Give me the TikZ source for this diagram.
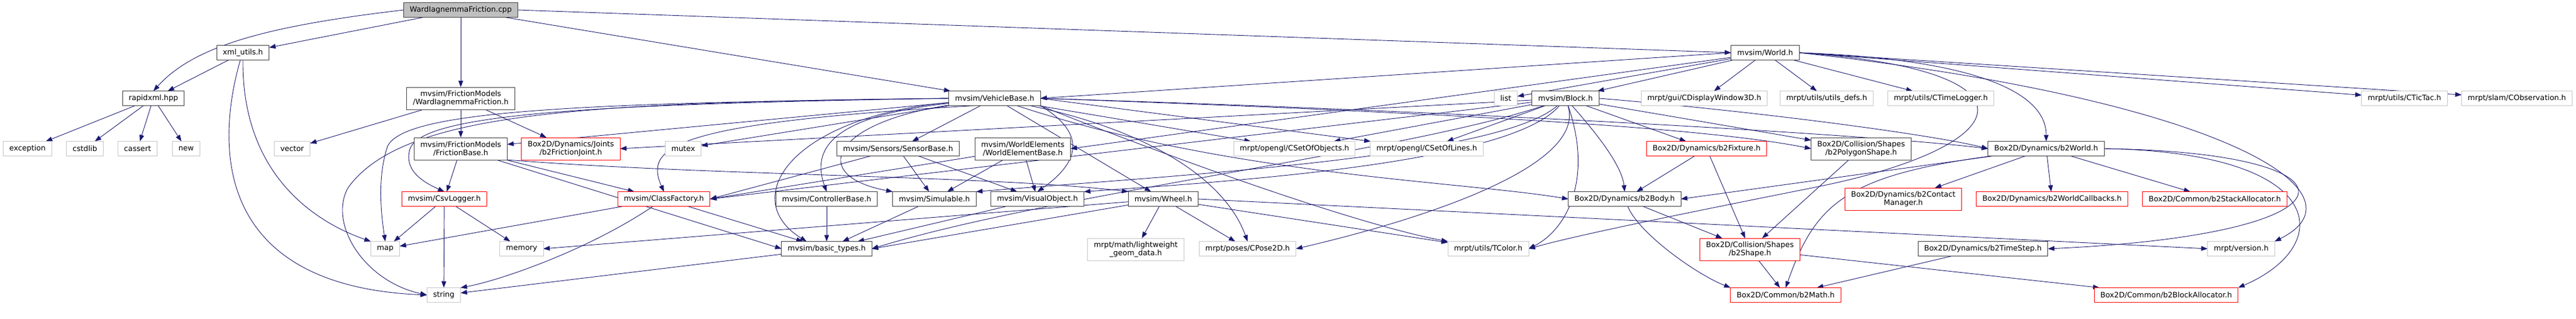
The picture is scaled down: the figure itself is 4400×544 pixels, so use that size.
\documentclass[tikz,border=0pt]{standalone}
\usepackage{fontspec}
\setmainfont{DejaVu Sans}
\usetikzlibrary{arrows.meta}
\definecolor{edgeblue}{HTML}{191970}
\pgfdeclarelayer{edges}
\pgfsetlayers{edges,main}

\begin{document}
\begin{tikzpicture}[x=1pt,y=-1pt,
  every node/.style={font=\fontsize{12.7}{14}\selectfont, minimum height=25pt, inner xsep=10.5pt, inner ysep=1pt, outer sep=0pt, align=center, line width=1pt, fill=white},
  hdr/.style={draw=black!75},
  hdrred/.style={draw=red},
  sys/.style={draw=black!22},
  root/.style={draw=black!75, fill=black!25},
  two/.style={minimum height=38pt},
  dep/.style={draw=edgeblue, line width=0.9pt, -{Triangle[length=11pt,width=8pt]}}]
\useasboundingbox (0,0) rectangle (4400,544);

% top rows
\node[root] (cpp) at (787,17) {WardIagnemmaFriction.cpp};
\node[hdr] (xml) at (415,90) {xml\_utils.h};
\node[hdr] (world) at (3015,90) {mvsim/World.h};

\node[hdr] (rapid) at (262,168) {rapidxml.hpp};
\node[hdr,two] (wif) at (787,168) {mvsim/FrictionModels\\/WardIagnemmaFriction.h};
\node[hdr] (vb) at (1699,168) {mvsim/VehicleBase.h};
\node[sys] (list) at (2572,168) {list};
\node[hdr] (block) at (2674,168) {mvsim/Block.h};
\node[sys] (disp) at (2911,168) {mrpt/gui/CDisplayWindow3D.h};
\node[sys] (udefs) at (3120,168) {mrpt/utils/utils\_defs.h};
\node[sys] (tlog) at (3315,168) {mrpt/utils/CTimeLogger.h};
\node[sys] (tictac) at (4107,168) {mrpt/utils/CTicTac.h};
\node[sys] (cobs) at (4299,168) {mrpt/slam/CObservation.h};

\node[sys] (exc) at (47,254) {exception};
\node[sys] (cstd) at (145,254) {cstdlib};
\node[sys] (cass) at (235,254) {cassert};
\node[sys] (new) at (318,254) {new};
\node[sys] (vector) at (499,254) {vector};
\node[hdr,two] (fb) at (787,254) {mvsim/FrictionModels\\/FrictionBase.h};
\node[hdrred,two] (joint) at (975,254) {Box2D/Dynamics/Joints\\/b2FrictionJoint.h};
\node[sys] (mutex) at (1167,254) {mutex};
\node[hdr] (sensor) at (1534,254) {mvsim/Sensors/SensorBase.h};
\node[hdr,two] (web) at (1747,254) {mvsim/WorldElements\\/WorldElementBase.h};
\node[sys] (cso) at (2211,254) {mrpt/opengl/CSetOfObjects.h};
\node[sys] (csl) at (2437,254) {mrpt/opengl/CSetOfLines.h};
\node[hdrred] (fix) at (2915,254) {Box2D/Dynamics/b2Fixture.h};
\node[hdr,two] (poly) at (3179,254) {Box2D/Collision/Shapes\\/b2PolygonShape.h};
\node[hdr] (b2w) at (3495,254) {Box2D/Dynamics/b2World.h};

\node[hdrred] (csv) at (759,340) {mvsim/CsvLogger.h};
\node[hdrred] (cf) at (1134,340) {mvsim/ClassFactory.h};
\node[hdr] (ctrl) at (1412,340) {mvsim/ControllerBase.h};
\node[hdr] (sim) at (1596,340) {mvsim/Simulable.h};
\node[hdr] (vis) at (1772,340) {mvsim/VisualObject.h};
\node[hdr] (wheel) at (1987,340) {mvsim/Wheel.h};
\node[hdr] (body) at (2775,340) {Box2D/Dynamics/b2Body.h};
\node[hdrred,two] (cm) at (3251,340) {Box2D/Dynamics/b2Contact\\Manager.h};
\node[hdrred] (wcb) at (3505,340) {Box2D/Dynamics/b2WorldCallbacks.h};
\node[hdrred] (stack) at (3783,340) {Box2D/Common/b2StackAllocator.h};

\node[sys] (map) at (658,425) {map};
\node[sys] (memory) at (891,425) {memory};
\node[hdr] (bt) at (1412,425) {mvsim/basic\_types.h};
\node[sys,two] (lw) at (1940,426) {mrpt/math/lightweight\\\_geom\_data.h};
\node[sys] (pose) at (2131,425) {mrpt/poses/CPose2D.h};
\node[sys] (tcolor) at (2542,425) {mrpt/utils/TColor.h};
\node[hdrred,two] (shape) at (2989,426) {Box2D/Collision/Shapes\\/b2Shape.h};
\node[hdr] (tstep) at (3387,425) {Box2D/Dynamics/b2TimeStep.h};
\node[sys] (ver) at (3828,425) {mrpt/version.h};

\node[sys] (string) at (758,504) {string};
\node[hdrred] (math) at (3050,504) {Box2D/Common/b2Math.h};
\node[hdrred] (balloc) at (3700,504) {Box2D/Common/b2BlockAllocator.h};

\begin{pgfonlayer}{edges}
% includes of the cpp
\draw[dep] (cpp) -- (xml);
\draw[dep] (cpp.west) .. controls (450,45) and (330,80) .. (rapid.north);
\draw[dep] (cpp) -- (wif);
\draw[dep] (cpp) -- (vb);
\draw[dep] (cpp.east) -- (world.west);

\draw[dep] (xml) -- (rapid);
\draw[dep] (xml.south) .. controls (413,300) and (540,380) .. (map.north west);
\draw[dep] (xml.250) .. controls (360,280) and (390,490) .. (string.west);

\draw[dep] (rapid) -- (exc);
\draw[dep] (rapid) -- (cstd);
\draw[dep] (rapid) -- (cass);
\draw[dep] (rapid) -- (new);

\draw[dep] (wif) -- (vector);
\draw[dep] (wif) -- (fb);
\draw[dep] (wif) -- (joint);

\draw[dep] (fb) -- (csv);
\draw[dep] (fb) -- (cf);
\draw[dep] (fb) -- (bt.west);
\draw[dep] (fb.south east) .. controls (1200,300) and (1700,300) .. (wheel.north west);

\draw[dep] (csv) -- (map);
\draw[dep] (csv) -- (memory);
\draw[dep] (csv) -- (string);

\draw[dep] (cf) -- (map);
\draw[dep] (cf) .. controls (1000,430) and (850,480) .. (string.north east);
\draw[dep] (cf) -- (bt);

% VehicleBase
\draw[dep] (vb.west) .. controls (1000,178) and (720,195) .. (700,255) .. controls (690,290) and (720,310) .. (csv.north);
\draw[dep] (vb.west) .. controls (1000,176) and (690,188) .. (662,250) .. controls (645,300) and (650,360) .. (map.north);
\draw[dep] (vb.west) .. controls (1000,175) and (690,190) .. (595,320) .. controls (560,380) and (620,480) .. (string.west);
\draw[dep] (vb) -- (fb);
\draw[dep] (vb) -- (mutex);
\draw[dep] (vb.200) .. controls (1150,210) and (1100,250) .. (cf.north);
\draw[dep] (vb) -- (sensor);
\draw[dep] (vb) .. controls (1450,195) and (1380,240) .. (ctrl.north);
\draw[dep] (vb) .. controls (1420,210) and (1380,300) .. (sim.north west);
\draw[dep] (vb) .. controls (1350,200) and (1260,340) .. (bt.160);
\draw[dep] (vb.south east) .. controls (1860,230) and (1840,280) .. (vis.north);
\draw[dep] (vb) -- (wheel);
\draw[dep] (vb) -- (cso);
\draw[dep] (vb.east) -- (csl);
\draw[dep] (vb) .. controls (1950,220) and (2090,300) .. (pose.north);
\draw[dep] (vb.south east) .. controls (1950,250) and (2300,380) .. (tcolor.north west);
\draw[dep] (vb) .. controls (2100,300) and (2500,310) .. (body.west);
\draw[dep] (vb.east) .. controls (2400,190) and (2900,215) .. (poly.west);
\draw[dep] (vb.east) .. controls (2500,190) and (3200,230) .. (b2w.west);

% Block
\draw[dep] (block) -- (csl);
\draw[dep] (block) -- (cso);
\draw[dep] (block) .. controls (2720,220) and (2770,280) .. (body.north);
\draw[dep] (block) -- (fix);
\draw[dep] (block) -- (poly);
\draw[dep] (block.east) .. controls (3000,190) and (3300,230) .. (b2w.west);
\draw[dep] (block) .. controls (2560,270) and (2000,300) .. (sim.north east);
\draw[dep] (block) .. controls (2580,280) and (2100,310) .. (vis.north east);
\draw[dep] (block) -- (cf.east);
\draw[dep] (block) .. controls (2400,260) and (1800,330) .. (bt.east);
\draw[dep] (block) .. controls (2710,280) and (2450,370) .. (pose.east);
\draw[dep] (block) .. controls (2720,300) and (2680,390) .. (tcolor.east);
\draw[dep] (block) -- (joint.east);

% World
\draw[dep] (world.west) -- (vb.east);
\draw[dep] (world) -- (web.east);
\draw[dep] (world) -- (list);
\draw[dep] (world) -- (block);
\draw[dep] (world) -- (disp);
\draw[dep] (world) -- (udefs);
\draw[dep] (world) -- (tlog);
\draw[dep] (world.east) -- (tictac);
\draw[dep] (world.east) -- (cobs);
\draw[dep] (world.east) .. controls (3350,100) and (3495,150) .. (b2w.north);
\draw[dep] (world.east) .. controls (3800,170) and (4050,330) .. (ver.north east);
\draw[dep] (world.east) .. controls (3500,120) and (3450,250) .. (3100,320) .. controls (2900,360) and (2700,400) .. (tcolor.east);

% Box2D
\draw[dep] (b2w) -- (cm);
\draw[dep] (b2w) -- (wcb);
\draw[dep] (b2w) -- (stack);
\draw[dep] (b2w) -- (body.east);
\draw[dep] (b2w) .. controls (3150,300) and (3100,350) .. (math.north);
\draw[dep] (b2w.east) .. controls (4050,260) and (4050,400) .. (tstep.east);
\draw[dep] (b2w.east) .. controls (3980,260) and (3990,420) .. (balloc.north east);
\draw[dep] (body) .. controls (2800,400) and (2900,470) .. (math.north west);
\draw[dep] (body) -- (shape);
\draw[dep] (fix) -- (body);
\draw[dep] (fix) -- (shape);
\draw[dep] (poly) -- (shape);
\draw[dep] (shape) -- (math);
\draw[dep] (shape) -- (balloc);
\draw[dep] (tstep) -- (math);

% mvsim headers
\draw[dep] (web) -- (sim);
\draw[dep] (web) -- (vis);
\draw[dep] (web) -- (cf.east);
\draw[dep] (sensor) -- (cf.east);
\draw[dep] (sensor) -- (sim);
\draw[dep] (sensor) -- (vis);
\draw[dep] (ctrl) -- (bt);
\draw[dep] (sim) -- (bt);
\draw[dep] (vis) -- (bt);
\draw[dep] (wheel) -- (bt.east);
\draw[dep] (wheel) -- (lw);
\draw[dep] (wheel) -- (pose);
\draw[dep] (wheel) -- (tcolor);
\draw[dep] (wheel.east) -- (ver.west);
\draw[dep] (wheel) -- (memory.east);
\draw[dep] (bt) -- (string);
\end{pgfonlayer}
\end{tikzpicture}
\end{document}
